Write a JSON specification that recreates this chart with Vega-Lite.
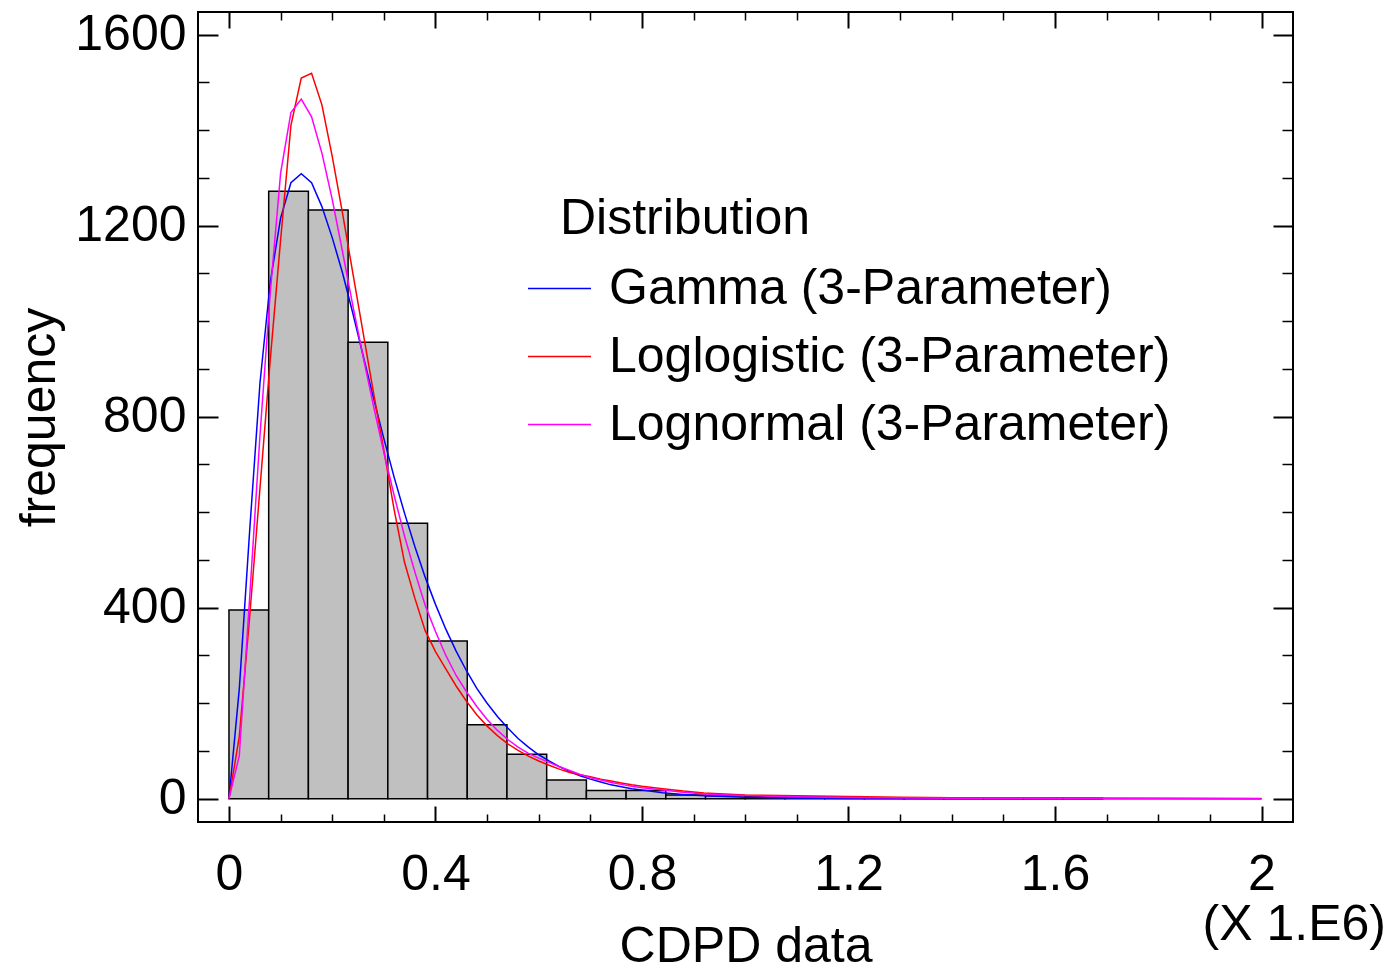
{
  "$schema": "https://vega.github.io/schema/vega-lite/v6.json",
  "width": 1095,
  "height": 810,
  "autosize": "none",
  "padding": {"left": 198, "top": 12, "right": 97, "bottom": 153},
  "background": "white",
  "config": {
    "font": "Liberation Sans",
    "view": {"stroke": "black", "strokeWidth": 2},
    "axis": {"grid": false, "domain": false, "labelFont": "Liberation Sans", "titleFont": "Liberation Sans", "labelColor": "black", "titleColor": "black", "tickColor": "black", "titleFontWeight": "normal", "labelFontSize": 50, "titleFontSize": 50}
  },
  "title": {"text": "(X 1.E6)", "orient": "bottom", "anchor": "end", "frame": "group", "dx": 93, "offset": -71, "fontSize": 50, "fontWeight": "normal", "color": "black", "font": "Liberation Sans"},
  "datasets": {
    "bars": [
      {"lo": 0, "hi": 0.076923, "count": 395},
      {"lo": 0.076923, "hi": 0.153846, "count": 1272},
      {"lo": 0.153846, "hi": 0.230769, "count": 1233},
      {"lo": 0.230769, "hi": 0.307692, "count": 956},
      {"lo": 0.307692, "hi": 0.384615, "count": 577},
      {"lo": 0.384615, "hi": 0.461538, "count": 330},
      {"lo": 0.461538, "hi": 0.538462, "count": 155},
      {"lo": 0.538462, "hi": 0.615385, "count": 93},
      {"lo": 0.615385, "hi": 0.692308, "count": 39},
      {"lo": 0.692308, "hi": 0.769231, "count": 17},
      {"lo": 0.769231, "hi": 0.846154, "count": 17},
      {"lo": 0.846154, "hi": 0.923077, "count": 8},
      {"lo": 0.923077, "hi": 1.0, "count": 6},
      {"lo": 1.0, "hi": 1.076923, "count": 5},
      {"lo": 1.076923, "hi": 1.153846, "count": 4},
      {"lo": 1.153846, "hi": 1.230769, "count": 3},
      {"lo": 1.230769, "hi": 1.307692, "count": 2},
      {"lo": 1.307692, "hi": 1.384615, "count": 1},
      {"lo": 1.384615, "hi": 1.461538, "count": 1},
      {"lo": 1.461538, "hi": 1.538462, "count": 1},
      {"lo": 1.538462, "hi": 1.615385, "count": 1},
      {"lo": 1.615385, "hi": 1.692308, "count": 1}
    ],
    "curves": [
      {"d": "Gamma (3-Parameter)", "x": 0, "f": 0},
      {"d": "Gamma (3-Parameter)", "x": 0.02, "f": 230},
      {"d": "Gamma (3-Parameter)", "x": 0.04, "f": 560},
      {"d": "Gamma (3-Parameter)", "x": 0.06, "f": 870},
      {"d": "Gamma (3-Parameter)", "x": 0.08, "f": 1082},
      {"d": "Gamma (3-Parameter)", "x": 0.10, "f": 1216},
      {"d": "Gamma (3-Parameter)", "x": 0.12, "f": 1290},
      {"d": "Gamma (3-Parameter)", "x": 0.14, "f": 1309},
      {"d": "Gamma (3-Parameter)", "x": 0.16, "f": 1290},
      {"d": "Gamma (3-Parameter)", "x": 0.18, "f": 1240},
      {"d": "Gamma (3-Parameter)", "x": 0.20, "f": 1175},
      {"d": "Gamma (3-Parameter)", "x": 0.22, "f": 1101},
      {"d": "Gamma (3-Parameter)", "x": 0.24, "f": 1016},
      {"d": "Gamma (3-Parameter)", "x": 0.26, "f": 927},
      {"d": "Gamma (3-Parameter)", "x": 0.28, "f": 839},
      {"d": "Gamma (3-Parameter)", "x": 0.30, "f": 754},
      {"d": "Gamma (3-Parameter)", "x": 0.32, "f": 673},
      {"d": "Gamma (3-Parameter)", "x": 0.34, "f": 598},
      {"d": "Gamma (3-Parameter)", "x": 0.36, "f": 528},
      {"d": "Gamma (3-Parameter)", "x": 0.38, "f": 464},
      {"d": "Gamma (3-Parameter)", "x": 0.40, "f": 407},
      {"d": "Gamma (3-Parameter)", "x": 0.42, "f": 355},
      {"d": "Gamma (3-Parameter)", "x": 0.44, "f": 309},
      {"d": "Gamma (3-Parameter)", "x": 0.46, "f": 268},
      {"d": "Gamma (3-Parameter)", "x": 0.48, "f": 231},
      {"d": "Gamma (3-Parameter)", "x": 0.50, "f": 200},
      {"d": "Gamma (3-Parameter)", "x": 0.52, "f": 172},
      {"d": "Gamma (3-Parameter)", "x": 0.54, "f": 148},
      {"d": "Gamma (3-Parameter)", "x": 0.56, "f": 126},
      {"d": "Gamma (3-Parameter)", "x": 0.58, "f": 108},
      {"d": "Gamma (3-Parameter)", "x": 0.60, "f": 92},
      {"d": "Gamma (3-Parameter)", "x": 0.62, "f": 79},
      {"d": "Gamma (3-Parameter)", "x": 0.64, "f": 67},
      {"d": "Gamma (3-Parameter)", "x": 0.66, "f": 57},
      {"d": "Gamma (3-Parameter)", "x": 0.68, "f": 48},
      {"d": "Gamma (3-Parameter)", "x": 0.70, "f": 41},
      {"d": "Gamma (3-Parameter)", "x": 0.72, "f": 35},
      {"d": "Gamma (3-Parameter)", "x": 0.74, "f": 29},
      {"d": "Gamma (3-Parameter)", "x": 0.76, "f": 25},
      {"d": "Gamma (3-Parameter)", "x": 0.78, "f": 21},
      {"d": "Gamma (3-Parameter)", "x": 0.80, "f": 18},
      {"d": "Gamma (3-Parameter)", "x": 0.84, "f": 12.5},
      {"d": "Gamma (3-Parameter)", "x": 0.88, "f": 9},
      {"d": "Gamma (3-Parameter)", "x": 0.92, "f": 6},
      {"d": "Gamma (3-Parameter)", "x": 0.96, "f": 4.5},
      {"d": "Gamma (3-Parameter)", "x": 1.0, "f": 3},
      {"d": "Gamma (3-Parameter)", "x": 1.1, "f": 1.3},
      {"d": "Gamma (3-Parameter)", "x": 1.2, "f": 0.6},
      {"d": "Gamma (3-Parameter)", "x": 1.4, "f": 0.1},
      {"d": "Gamma (3-Parameter)", "x": 1.6, "f": 0},
      {"d": "Gamma (3-Parameter)", "x": 2.0, "f": 0},
      {"d": "Loglogistic (3-Parameter)", "x": 0, "f": 0},
      {"d": "Loglogistic (3-Parameter)", "x": 0.02, "f": 130},
      {"d": "Loglogistic (3-Parameter)", "x": 0.04, "f": 380},
      {"d": "Loglogistic (3-Parameter)", "x": 0.06, "f": 650},
      {"d": "Loglogistic (3-Parameter)", "x": 0.08, "f": 920},
      {"d": "Loglogistic (3-Parameter)", "x": 0.10, "f": 1170},
      {"d": "Loglogistic (3-Parameter)", "x": 0.12, "f": 1410},
      {"d": "Loglogistic (3-Parameter)", "x": 0.14, "f": 1509},
      {"d": "Loglogistic (3-Parameter)", "x": 0.16, "f": 1519},
      {"d": "Loglogistic (3-Parameter)", "x": 0.18, "f": 1453},
      {"d": "Loglogistic (3-Parameter)", "x": 0.20, "f": 1345},
      {"d": "Loglogistic (3-Parameter)", "x": 0.22, "f": 1226},
      {"d": "Loglogistic (3-Parameter)", "x": 0.24, "f": 1100},
      {"d": "Loglogistic (3-Parameter)", "x": 0.26, "f": 975},
      {"d": "Loglogistic (3-Parameter)", "x": 0.28, "f": 850},
      {"d": "Loglogistic (3-Parameter)", "x": 0.30, "f": 730},
      {"d": "Loglogistic (3-Parameter)", "x": 0.32, "f": 605},
      {"d": "Loglogistic (3-Parameter)", "x": 0.34, "f": 495},
      {"d": "Loglogistic (3-Parameter)", "x": 0.36, "f": 420},
      {"d": "Loglogistic (3-Parameter)", "x": 0.38, "f": 352},
      {"d": "Loglogistic (3-Parameter)", "x": 0.40, "f": 308},
      {"d": "Loglogistic (3-Parameter)", "x": 0.42, "f": 272},
      {"d": "Loglogistic (3-Parameter)", "x": 0.44, "f": 236},
      {"d": "Loglogistic (3-Parameter)", "x": 0.46, "f": 204},
      {"d": "Loglogistic (3-Parameter)", "x": 0.48, "f": 176},
      {"d": "Loglogistic (3-Parameter)", "x": 0.50, "f": 152},
      {"d": "Loglogistic (3-Parameter)", "x": 0.52, "f": 132},
      {"d": "Loglogistic (3-Parameter)", "x": 0.54, "f": 115},
      {"d": "Loglogistic (3-Parameter)", "x": 0.56, "f": 101},
      {"d": "Loglogistic (3-Parameter)", "x": 0.58, "f": 89},
      {"d": "Loglogistic (3-Parameter)", "x": 0.60, "f": 79},
      {"d": "Loglogistic (3-Parameter)", "x": 0.62, "f": 70},
      {"d": "Loglogistic (3-Parameter)", "x": 0.64, "f": 62},
      {"d": "Loglogistic (3-Parameter)", "x": 0.66, "f": 55},
      {"d": "Loglogistic (3-Parameter)", "x": 0.68, "f": 50},
      {"d": "Loglogistic (3-Parameter)", "x": 0.70, "f": 46},
      {"d": "Loglogistic (3-Parameter)", "x": 0.72, "f": 41},
      {"d": "Loglogistic (3-Parameter)", "x": 0.74, "f": 37},
      {"d": "Loglogistic (3-Parameter)", "x": 0.76, "f": 33},
      {"d": "Loglogistic (3-Parameter)", "x": 0.78, "f": 29},
      {"d": "Loglogistic (3-Parameter)", "x": 0.80, "f": 26},
      {"d": "Loglogistic (3-Parameter)", "x": 0.84, "f": 21},
      {"d": "Loglogistic (3-Parameter)", "x": 0.88, "f": 16},
      {"d": "Loglogistic (3-Parameter)", "x": 0.92, "f": 12},
      {"d": "Loglogistic (3-Parameter)", "x": 0.96, "f": 10},
      {"d": "Loglogistic (3-Parameter)", "x": 1.0, "f": 8},
      {"d": "Loglogistic (3-Parameter)", "x": 1.1, "f": 6},
      {"d": "Loglogistic (3-Parameter)", "x": 1.2, "f": 4.5},
      {"d": "Loglogistic (3-Parameter)", "x": 1.3, "f": 3},
      {"d": "Loglogistic (3-Parameter)", "x": 1.4, "f": 2},
      {"d": "Loglogistic (3-Parameter)", "x": 1.6, "f": 1.5},
      {"d": "Loglogistic (3-Parameter)", "x": 1.8, "f": 1},
      {"d": "Loglogistic (3-Parameter)", "x": 2.0, "f": 0.5},
      {"d": "Lognormal (3-Parameter)", "x": 0, "f": 0},
      {"d": "Lognormal (3-Parameter)", "x": 0.02, "f": 90},
      {"d": "Lognormal (3-Parameter)", "x": 0.04, "f": 420},
      {"d": "Lognormal (3-Parameter)", "x": 0.06, "f": 760},
      {"d": "Lognormal (3-Parameter)", "x": 0.08, "f": 1060},
      {"d": "Lognormal (3-Parameter)", "x": 0.10, "f": 1310},
      {"d": "Lognormal (3-Parameter)", "x": 0.12, "f": 1437},
      {"d": "Lognormal (3-Parameter)", "x": 0.14, "f": 1465},
      {"d": "Lognormal (3-Parameter)", "x": 0.16, "f": 1428},
      {"d": "Lognormal (3-Parameter)", "x": 0.18, "f": 1352},
      {"d": "Lognormal (3-Parameter)", "x": 0.20, "f": 1255},
      {"d": "Lognormal (3-Parameter)", "x": 0.22, "f": 1145},
      {"d": "Lognormal (3-Parameter)", "x": 0.24, "f": 1032},
      {"d": "Lognormal (3-Parameter)", "x": 0.26, "f": 925},
      {"d": "Lognormal (3-Parameter)", "x": 0.28, "f": 822},
      {"d": "Lognormal (3-Parameter)", "x": 0.30, "f": 725},
      {"d": "Lognormal (3-Parameter)", "x": 0.32, "f": 635},
      {"d": "Lognormal (3-Parameter)", "x": 0.34, "f": 550},
      {"d": "Lognormal (3-Parameter)", "x": 0.36, "f": 475},
      {"d": "Lognormal (3-Parameter)", "x": 0.38, "f": 405},
      {"d": "Lognormal (3-Parameter)", "x": 0.40, "f": 350},
      {"d": "Lognormal (3-Parameter)", "x": 0.42, "f": 300},
      {"d": "Lognormal (3-Parameter)", "x": 0.44, "f": 258},
      {"d": "Lognormal (3-Parameter)", "x": 0.46, "f": 224},
      {"d": "Lognormal (3-Parameter)", "x": 0.48, "f": 193},
      {"d": "Lognormal (3-Parameter)", "x": 0.50, "f": 166},
      {"d": "Lognormal (3-Parameter)", "x": 0.52, "f": 143},
      {"d": "Lognormal (3-Parameter)", "x": 0.54, "f": 124},
      {"d": "Lognormal (3-Parameter)", "x": 0.56, "f": 108},
      {"d": "Lognormal (3-Parameter)", "x": 0.58, "f": 95},
      {"d": "Lognormal (3-Parameter)", "x": 0.60, "f": 85},
      {"d": "Lognormal (3-Parameter)", "x": 0.62, "f": 76},
      {"d": "Lognormal (3-Parameter)", "x": 0.64, "f": 67},
      {"d": "Lognormal (3-Parameter)", "x": 0.66, "f": 59},
      {"d": "Lognormal (3-Parameter)", "x": 0.68, "f": 51},
      {"d": "Lognormal (3-Parameter)", "x": 0.70, "f": 44},
      {"d": "Lognormal (3-Parameter)", "x": 0.72, "f": 39},
      {"d": "Lognormal (3-Parameter)", "x": 0.74, "f": 34},
      {"d": "Lognormal (3-Parameter)", "x": 0.76, "f": 30},
      {"d": "Lognormal (3-Parameter)", "x": 0.78, "f": 26},
      {"d": "Lognormal (3-Parameter)", "x": 0.80, "f": 23},
      {"d": "Lognormal (3-Parameter)", "x": 0.84, "f": 18},
      {"d": "Lognormal (3-Parameter)", "x": 0.88, "f": 13.5},
      {"d": "Lognormal (3-Parameter)", "x": 0.92, "f": 10},
      {"d": "Lognormal (3-Parameter)", "x": 0.96, "f": 8},
      {"d": "Lognormal (3-Parameter)", "x": 1.0, "f": 6.5},
      {"d": "Lognormal (3-Parameter)", "x": 1.1, "f": 4},
      {"d": "Lognormal (3-Parameter)", "x": 1.2, "f": 2.5},
      {"d": "Lognormal (3-Parameter)", "x": 1.4, "f": 1},
      {"d": "Lognormal (3-Parameter)", "x": 1.6, "f": 0.5},
      {"d": "Lognormal (3-Parameter)", "x": 1.8, "f": 0.2},
      {"d": "Lognormal (3-Parameter)", "x": 2.0, "f": 0}
    ]
  },
  "resolve": {"axis": {"x": "independent", "y": "independent"}},
  "layer": [
    {
      "data": {"name": "bars"},
      "mark": {"type": "rect", "fill": "#c0c0c0", "stroke": "black", "strokeWidth": 1.5},
      "encoding": {
        "x": {"field": "lo", "type": "quantitative", "scale": {"domain": [-0.06, 2.061], "nice": false, "zero": false},
              "axis": {"orient": "bottom", "values": [0, 0.4, 0.8, 1.2, 1.6, 2], "format": "~g", "tickSize": -16, "tickWidth": 2, "labelPadding": 43, "labelFlush": false, "labelOverlap": false, "title": "CDPD data", "titlePadding": 22}},
        "x2": {"field": "hi"},
        "y": {"field": "count", "type": "quantitative", "scale": {"domain": [-48.8, 1647.5], "nice": false, "zero": false},
              "axis": {"orient": "left", "values": [0, 400, 800, 1200, 1600], "format": "d", "tickSize": -20, "tickWidth": 2, "labelPadding": 32, "title": "frequency", "titlePadding": 10}},
        "y2": {"datum": 0}
      }
    },
    {
      "data": {"name": "curves"},
      "transform": [{"filter": "datum.d === 'Gamma (3-Parameter)'"}],
      "mark": {"type": "line", "strokeWidth": 1.5},
      "encoding": {
        "x": {"field": "x", "type": "quantitative", "scale": {"domain": [-0.06, 2.061], "nice": false, "zero": false},
              "axis": {"orient": "bottom", "values": [0.1, 0.2, 0.3, 0.5, 0.6, 0.7, 0.9, 1.0, 1.1, 1.3, 1.4, 1.5, 1.7, 1.8, 1.9], "tickSize": -8, "tickWidth": 1.5, "labels": false, "title": null}},
        "y": {"field": "f", "type": "quantitative", "scale": {"domain": [-48.8, 1647.5], "nice": false, "zero": false},
              "axis": {"orient": "left", "values": [100, 200, 300, 500, 600, 700, 900, 1000, 1100, 1300, 1400, 1500], "tickSize": -11, "tickWidth": 1.5, "labels": false, "title": null}},
        "color": {"field": "d", "type": "nominal",
                  "scale": {"domain": ["Gamma (3-Parameter)", "Loglogistic (3-Parameter)", "Lognormal (3-Parameter)"], "range": ["#0000ff", "#ff0000", "#ff00ff"]},
                  "legend": {"orient": "none", "legendX": 362, "legendY": 182, "title": "Distribution", "titleFont": "Liberation Sans", "titleFontSize": 50, "titleFontWeight": "normal", "titleColor": "black", "titlePadding": 12, "titleAnchor": "start", "titleLimit": 1000, "labelFont": "Liberation Sans", "labelFontSize": 50, "labelColor": "black", "labelOffset": 17, "labelLimit": 1000, "symbolType": "stroke", "symbolSize": 3969, "symbolStrokeWidth": 1.5, "symbolOffset": -33, "rowPadding": 10, "padding": 0}}
      }
    },
    {
      "data": {"name": "curves"},
      "transform": [{"filter": "datum.d === 'Loglogistic (3-Parameter)'"}],
      "mark": {"type": "line", "strokeWidth": 1.5},
      "encoding": {
        "x": {"field": "x", "type": "quantitative", "scale": {"domain": [-0.06, 2.061], "nice": false, "zero": false},
              "axis": {"orient": "top", "values": [0, 0.4, 0.8, 1.2, 1.6, 2], "tickSize": -16, "tickWidth": 2, "labels": false, "title": null}},
        "y": {"field": "f", "type": "quantitative", "scale": {"domain": [-48.8, 1647.5], "nice": false, "zero": false},
              "axis": {"orient": "right", "values": [0, 400, 800, 1200, 1600], "tickSize": -20, "tickWidth": 2, "labels": false, "title": null}},
        "color": {"field": "d", "type": "nominal"}
      }
    },
    {
      "data": {"name": "curves"},
      "transform": [{"filter": "datum.d === 'Lognormal (3-Parameter)'"}],
      "mark": {"type": "line", "strokeWidth": 1.5},
      "encoding": {
        "x": {"field": "x", "type": "quantitative", "scale": {"domain": [-0.06, 2.061], "nice": false, "zero": false},
              "axis": {"orient": "top", "values": [0.1, 0.2, 0.3, 0.5, 0.6, 0.7, 0.9, 1.0, 1.1, 1.3, 1.4, 1.5, 1.7, 1.8, 1.9], "tickSize": -8, "tickWidth": 1.5, "labels": false, "title": null}},
        "y": {"field": "f", "type": "quantitative", "scale": {"domain": [-48.8, 1647.5], "nice": false, "zero": false},
              "axis": {"orient": "right", "values": [100, 200, 300, 500, 600, 700, 900, 1000, 1100, 1300, 1400, 1500], "tickSize": -11, "tickWidth": 1.5, "labels": false, "title": null}},
        "color": {"field": "d", "type": "nominal"}
      }
    }
  ]
}
